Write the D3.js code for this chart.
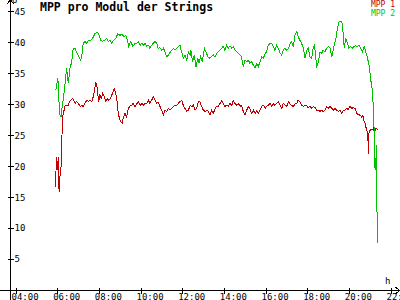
<!DOCTYPE html>
<html><head><meta charset="utf-8">
<script src="https://cdn.jsdelivr.net/npm/d3@7"></script>
<style>body{margin:0;background:#fff}svg{display:block}</style>
</head><body><svg width="400" height="300"></svg>
<script>
const title = "MPP pro Modul der Strings";
const seriesNames = ["MPP 1", "MPP 2"];
const seriesColors = ["#c00000", "#00c000"];
const xTicks = ["04:00","06:00","08:00","10:00","12:00","14:00","16:00","18:00","20:00","22:00"];
const yTicks = [5,10,15,20,25,30,35,40,45];
const yUnit = "U";
const xUnit = "h";

// MPP 1: time in minutes of the day, value
const t1 = [354,355,357,359,361,363,365,366,368,371,
373,375,378,383,387,392,395,399,404,408,
412,416,421,426,431,435,440,445,450,455,
460,464,467,471,474,477,480,483,487,491,
496,500,504,509,514,519,524,527,531,535,
539,543,548,550,555,560,563,568,575,579,
584,589,594,599,604,608,613,618,623,627,
632,637,642,647,651,656,661,666,671,676,
680,685,690,695,699,704,709,714,719,723,
728,733,738,743,748,752,757,762,767,771,
776,781,786,791,795,800,805,810,815,819,
824,829,834,838,843,848,853,858,863,867,
872,877,882,887,891,896,901,906,910,915,
920,925,930,935,939,944,949,954,959,963,
968,973,978,982,987,992,997,1002,1007,1011,
1016,1021,1026,1031,1035,1040,1045,1050,1054,1059,
1064,1069,1074,1079,1083,1088,1093,1098,1103,1107,
1112,1117,1122,1126,1131,1136,1141,1146,1151,1155,
1160,1165,1170,1175,1179,1184,1189,1194,1198,1203,
1208,1213,1218,1223,1227,1232,1237,1240,1242,1244,
1247,1249,1250,1253,1255,1256,1257,1259,1263,1267,
1271,1273,1276,1279,1283];
const v1 = [18.2,16.6,19.8,21.4,19.3,21.4,16.6,15.8,18.2,19.8,
22.6,27.7,28.5,29.8,29.8,29.8,30.4,30.6,30.9,30.6,
30.1,30.4,30.1,29.6,29.8,29.6,30.1,30.6,30.4,30.6,
30.4,31.2,32.0,33.6,33.1,31.5,30.4,31.5,30.9,31.7,
31.2,30.4,30.9,30.6,30.9,31.7,32.5,32.0,31.2,29.0,
27.7,27.1,26.9,27.7,28.5,27.9,28.8,29.6,29.8,30.1,
29.6,30.0,30.4,29.8,30.1,29.8,30.1,30.1,30.6,30.1,
30.6,31.2,30.6,30.1,30.3,29.6,29.0,28.2,29.0,28.8,
29.3,29.0,29.3,29.6,29.8,29.8,30.1,30.4,30.6,29.8,
29.3,28.8,29.0,29.8,29.6,29.8,29.0,29.3,30.4,30.4,
29.6,29.0,28.8,29.0,28.8,28.2,29.0,28.5,29.3,29.6,
29.6,30.1,30.5,30.1,29.6,29.8,29.6,30.1,29.8,30.6,
30.1,29.8,30.1,29.6,29.8,28.8,28.2,29.0,29.6,29.3,
28.5,29.0,28.5,28.9,28.5,29.0,29.6,29.8,29.3,29.6,
29.8,30.1,29.6,30.1,29.8,30.1,30.4,29.8,29.3,30.1,
29.8,29.6,30.4,30.0,29.8,29.6,30.0,30.1,30.6,30.4,
29.8,29.6,29.8,29.7,29.4,29.6,29.3,29.6,29.4,29.0,
29.0,28.8,29.0,28.8,29.0,29.6,29.3,29.6,29.3,29.0,
29.3,29.0,28.8,29.0,28.5,29.0,29.0,29.3,29.1,29.6,
29.3,29.4,29.3,28.5,28.3,28.2,27.9,28.2,27.7,27.1,
26.9,26.3,26.1,25.5,24.7,21.9,25.0,25.5,25.9,25.8,
26.1,25.5,25.8,26.1,25.8];

// MPP 2
const t2 = [356,359,362,365,368,371,375,378,383,387,
392,397,402,406,411,416,423,428,432,435,
440,445,450,457,462,469,476,481,485,491,
496,503,507,512,517,522,529,534,541,546,
553,558,562,566,572,578,584,589,594,599,
604,608,613,618,623,627,632,637,642,647,
651,656,661,666,671,674,677,683,690,695,
699,704,709,714,717,720,723,728,733,738,
743,745,750,755,760,765,768,773,778,784,
789,794,798,803,810,815,819,824,829,834,
838,843,848,853,858,863,867,872,877,882,
887,891,896,901,906,910,915,920,925,930,
935,939,944,949,954,959,963,968,973,978,
982,987,992,997,1002,1007,1011,1016,1021,1026,
1031,1035,1040,1045,1050,1054,1059,1064,1069,1074,
1079,1083,1088,1093,1098,1101,1105,1107,1112,1117,
1122,1126,1131,1136,1141,1146,1151,1154,1158,1163,
1168,1172,1177,1181,1184,1187,1191,1196,1200,1205,
1210,1215,1220,1224,1229,1234,1239,1244,1249,1253,
1258,1261,1264,1267,1270,1272,1273,1274,1275,1277,
1278,1279,1280,1282];
const v2 = [32.3,33.1,34.2,30.6,28.2,27.9,29.8,31.0,33.4,35.8,
33.4,35.8,36.8,38.9,39.0,38.4,37.6,37.1,38.2,39.8,
40.1,39.8,40.3,40.3,40.6,41.4,41.6,41.1,40.3,40.1,
40.3,40.6,40.1,40.3,39.8,40.3,40.6,41.3,41.1,41.3,
40.9,41.1,40.3,39.3,40.1,39.3,39.8,39.8,40.1,39.5,
39.8,39.5,39.8,39.3,39.5,39.0,39.5,39.8,40.1,39.8,
39.0,39.1,38.7,39.0,38.4,37.9,37.6,38.2,38.7,39.0,
38.7,39.0,39.3,39.5,38.7,38.2,37.4,37.9,37.1,38.4,
37.9,38.7,36.8,37.9,36.0,37.4,36.6,37.6,36.8,39.0,
38.4,37.6,37.4,37.6,37.9,37.6,38.2,38.4,38.7,39.0,
39.3,38.7,39.5,39.0,39.4,39.0,39.3,38.7,38.4,38.2,
37.9,37.6,36.0,37.1,36.8,37.1,36.6,36.8,36.3,35.8,
36.6,36.0,36.8,37.6,37.4,38.2,38.4,39.5,39.8,39.8,
39.3,38.7,39.5,39.0,38.2,37.9,38.7,39.0,38.7,39.0,
39.7,40.1,39.3,41.1,41.7,40.9,40.3,39.8,39.0,37.4,
38.7,39.0,37.6,37.4,39.3,39.5,37.6,35.8,36.8,38.4,
38.2,38.7,38.4,39.0,39.3,39.0,37.6,38.4,39.5,40.6,
42.5,43.3,43.4,43.0,41.1,39.0,40.6,39.8,39.0,39.3,
39.0,39.3,39.4,39.2,39.5,39.0,38.4,39.3,38.4,37.6,
36.3,35.0,33.6,32.5,30.1,27.9,24.7,22.6,19.7,21.3,
19.3,23.4,19.3,7.5];

const font = "'DejaVu Sans Mono', monospace";
const svg = d3.select("svg");
const toMin = s => (+s.slice(0, 2)) * 60 + (+s.slice(3));
const x = d3.scaleLinear().domain([toMin(xTicks[0]), toMin(xTicks[xTicks.length - 1])]).range([15.5, 390.5]);
const y = d3.scaleLinear().domain([0, 45]).range([289.7, 11.15]);

// axes lines with arrows
svg.append("line").attr("x1", 0).attr("x2", 399).attr("y1", 290.5).attr("y2", 290.5).attr("stroke", "#000").attr("shape-rendering", "crispEdges");
svg.append("path").attr("d", "M395.5,287L399.5,290.5L395.5,294").attr("fill", "none").attr("stroke", "#000").attr("shape-rendering", "crispEdges");
svg.append("line").attr("x1", 10.5).attr("x2", 10.5).attr("y1", 0).attr("y2", 300).attr("stroke", "#000").attr("shape-rendering", "crispEdges");
svg.append("path").attr("d", "M7,4L10.5,0L14,4").attr("fill", "none").attr("stroke", "#000").attr("shape-rendering", "crispEdges");

// x axis
const gx = svg.append("g").attr("transform", "translate(0,290.5)")
  .call(d3.axisBottom(x).tickValues(xTicks.map(toMin)).tickFormat((d, i) => xTicks[i]).tickSizeOuter(0));
gx.select(".domain").remove();
gx.selectAll(".tick line").attr("y1", -3).attr("y2", 3).attr("stroke", "#000").attr("shape-rendering", "crispEdges");
gx.selectAll(".tick text").attr("text-anchor", "start").attr("x", -4.5).attr("y", 9).attr("dy", 0)
  .attr("font-family", font).attr("font-size", 9).attr("fill", "#000");

// y axis
const gy = svg.append("g").attr("transform", "translate(10.5,0)")
  .call(d3.axisLeft(y).tickValues(yTicks).tickSizeOuter(0));
gy.select(".domain").remove();
gy.selectAll(".tick line").attr("x1", -3).attr("x2", 3).attr("stroke", "#000").attr("shape-rendering", "crispEdges");
gy.selectAll(".tick text").attr("text-anchor", "start").attr("x", 4).attr("dy", "0.35em")
  .attr("font-family", font).attr("font-size", 9).attr("fill", "#000");

// units
svg.append("text").attr("x", 12).attr("y", 3).attr("font-family", font).attr("font-size", 9).text(yUnit);
svg.append("text").attr("x", 385).attr("y", 284).attr("font-family", font).attr("font-size", 9).text(xUnit);

// lines
const series = [
  { t: t1, v: v1, color: seriesColors[0] },
  { t: t2, v: v2, color: seriesColors[1] }
];
const line = d3.line().x(d => x(d[0])).y(d => y(d[1]));
series.forEach(s => {
  svg.append("path").datum(d3.zip(s.t, s.v)).attr("d", line)
    .attr("fill", "none").attr("stroke", s.color).attr("stroke-width", 1)
    .attr("shape-rendering", "crispEdges");
});

// title
svg.append("text").attr("x", 40).attr("y", 11).attr("font-family", font).attr("font-weight", "bold")
  .attr("font-size", 11.5).attr("fill", "#000").text(title);

// legend
seriesNames.forEach((n, i) => {
  svg.append("text").attr("x", 395).attr("y", 7 + i * 8.5).attr("text-anchor", "end")
    .attr("font-family", font).attr("font-size", 8).attr("fill", seriesColors[i]).text(n);
});
</script>
</body></html>
